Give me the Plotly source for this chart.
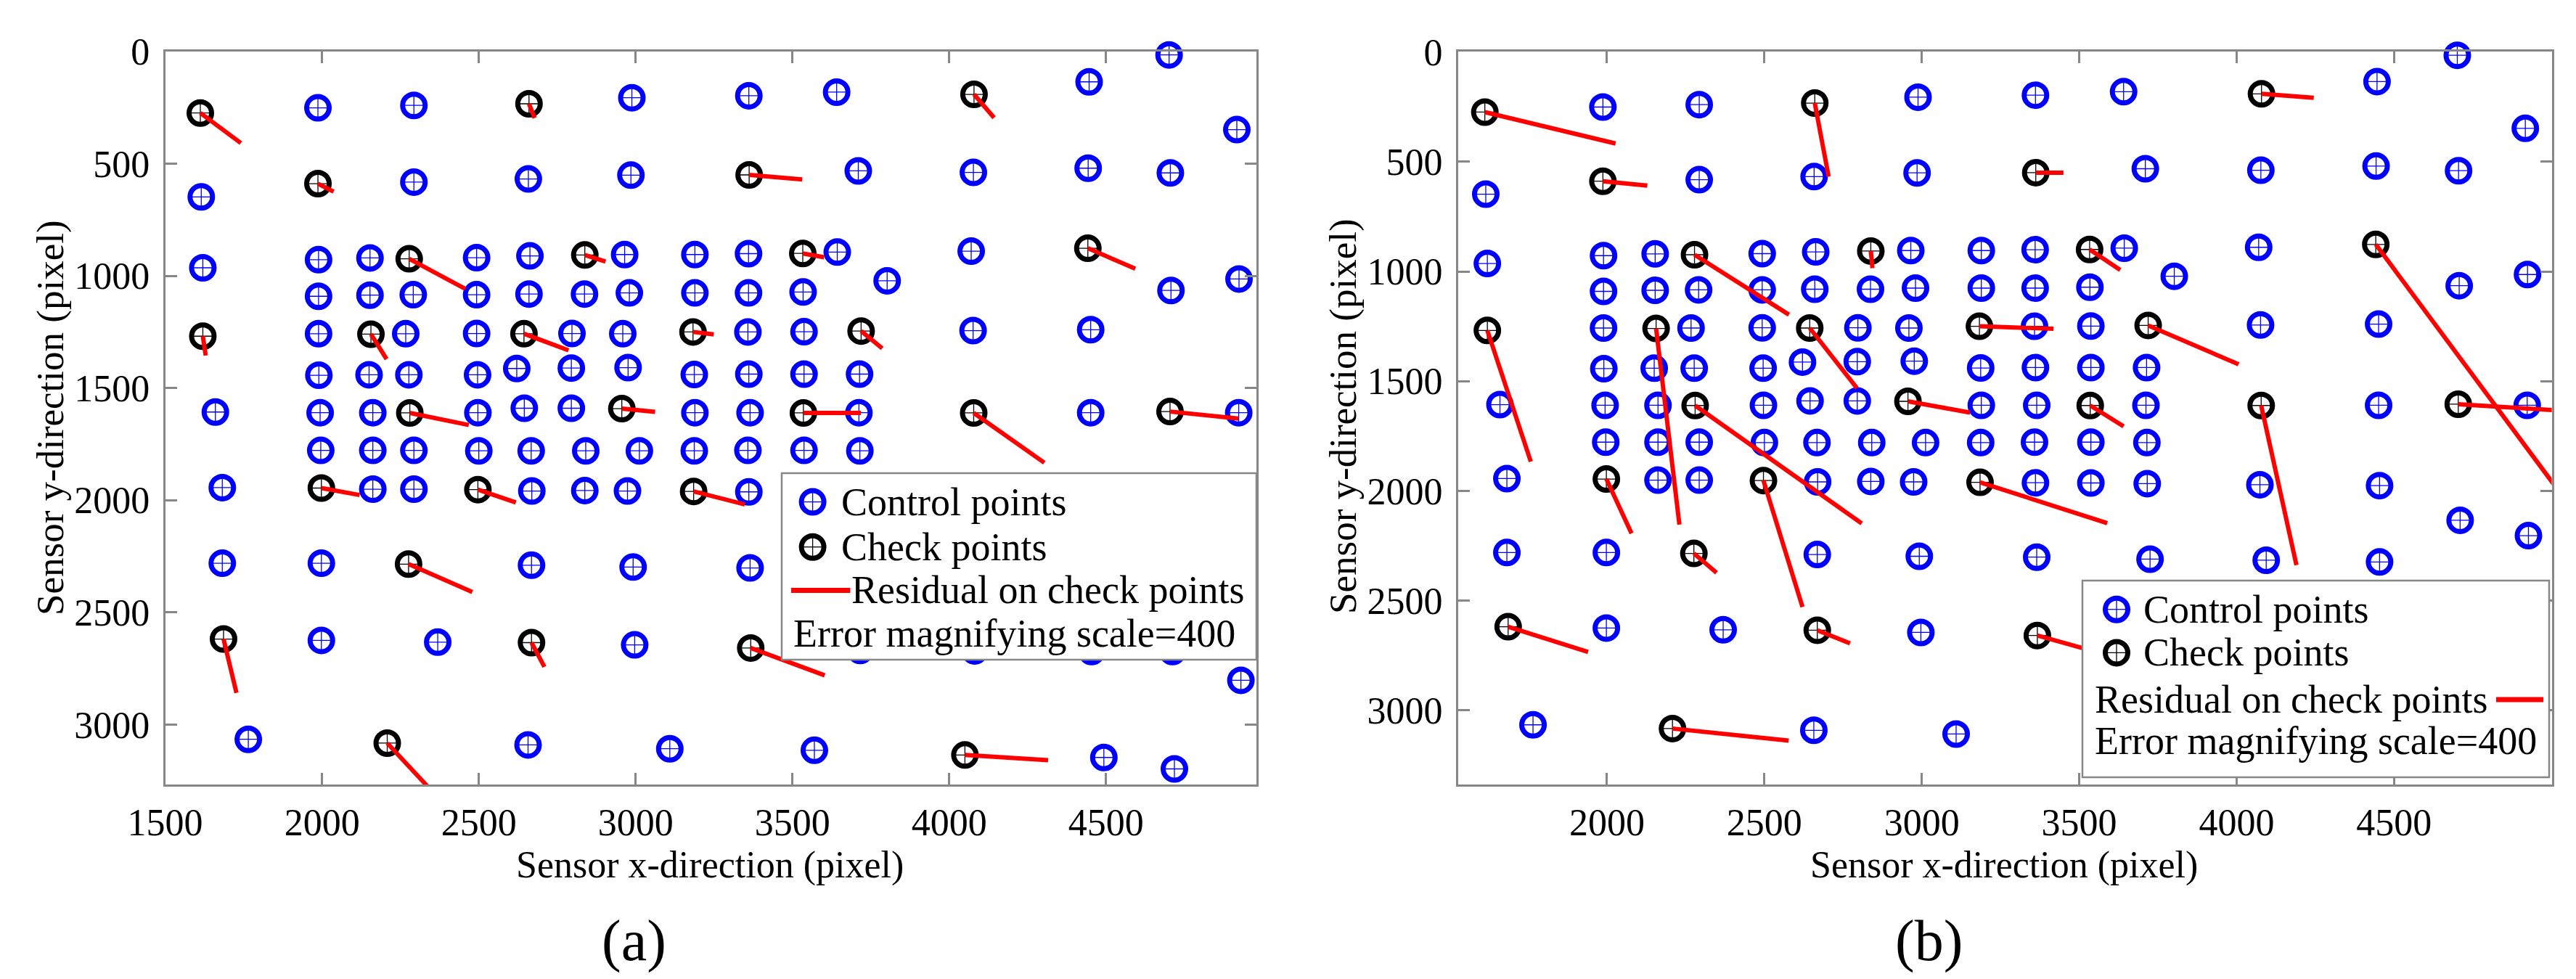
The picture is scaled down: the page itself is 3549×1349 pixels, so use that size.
import plotly.graph_objects as go

FONT = "Liberation Serif, Times New Roman, serif"
W, H = 3549, 1349
SCALE = 400  # error magnifying scale

# ---------------- data (sensor pixel coordinates) ----------------
control_x = [1987, 2293, 2988, 3361, 3641, 4446, 4701, 4917,
             1615, 2293, 2658, 2985, 3710, 4077, 4443, 4705,
             1620, 1989, 2153, 2493, 2663, 2965, 3189, 3360, 3643, 4070, 3802, 4707, 4924,
             1989, 2153, 2291, 2493, 2660, 2837, 2980, 3189, 3360, 3534,
             1989, 2267, 2493, 2797, 2959, 3358, 3537, 4076, 4451,
             1990, 2150, 2277, 2496, 2621, 2795, 2976, 3187, 3361, 3537, 3714,
             1660, 1994, 2162, 2497, 2645, 2795, 3189, 3365, 3712, 4451, 4923,
             1996, 2162, 2293, 2500, 2667, 2841, 3012, 3187, 3358, 3537, 3715,
             1682, 2162, 2293, 2669, 2838, 2974, 3361, 3537, 3716, 4074, 4454, 4710, 4927,
             1682, 1998, 2668, 2992, 3365, 3725, 4094, 4454,
             1998, 2369, 2997, 3716, 4081, 4454, 4712, 4930,
             1765, 2657, 3109, 3570, 4493, 4718]
control_y = [251, 240, 206, 197, 181, 135, 15, 348,
             648, 582, 568, 551, 532, 539, 520, 541,
             964, 928, 920, 919, 911, 905, 905, 901, 894, 890, 1022, 1065, 1014,
             1091, 1086, 1084, 1084, 1081, 1081, 1076, 1076, 1076, 1072,
             1258, 1258, 1257, 1257, 1258, 1250, 1249, 1244, 1240,
             1443, 1441, 1441, 1441, 1413, 1411, 1409, 1440, 1438, 1438, 1438,
             1607, 1610, 1610, 1610, 1590, 1590, 1610, 1610, 1610, 1610, 1610,
             1778, 1778, 1778, 1780, 1780, 1780, 1780, 1780, 1778, 1778, 1780,
             1944, 1951, 1951, 1959, 1957, 1959, 1963, 1964, 1967, 1972, 1976, 2134, 2204,
             2281, 2281, 2290, 2298, 2302, 2311, 2316, 2324,
             2625, 2633, 2645, 2670, 2672, 2675, 2675, 2803,
             3066, 3091, 3108, 3115, 3147, 3198]

check_x = [1612, 2660, 4079, 1987, 3362, 2278, 2838, 3533, 4442, 1620,
           2156, 2644, 3183, 3719, 2280, 2956, 3535, 4078, 4704, 1998,
           2497, 3185, 2276, 1686, 2668, 3367, 2208, 4050]
check_y = [274, 233, 191, 589, 550, 924, 907, 900, 877, 1269,
           1260, 1258, 1250, 1246, 1611, 1592, 1611, 1611, 1605, 1946,
           1953, 1961, 2285, 2619, 2635, 2659, 3083, 3136]

# residuals (pixel) of the check points, solution (a)
resid_a_x = [0.323, 0.045, 0.160, 0.125, 0.423, 0.448, 0.165, 0.170, 0.378, 0.023,
             0.125, 0.355, 0.165, 0.168, 0.470, 0.265, 0.458, 0.563, 0.545, 0.305,
             0.303, 0.408, 0.508, 0.103, 0.103, 0.590, 0.380, 0.663]
resid_a_y = [0.335, 0.158, 0.260, 0.090, 0.050, 0.335, 0.073, 0.043, 0.228, 0.215,
             0.278, 0.185, 0.028, 0.193, 0.135, 0.035, 0.000, 0.555, 0.078, 0.078,
             0.143, 0.145, 0.310, 0.600, 0.270, 0.305, 0.570, 0.058]

# residuals (pixel) of the check points, solution (b)
resid_b_x = [1.038, 0.110, 0.415, 0.353, 0.220, 0.750, 0.013, 0.243, 1.500, 0.345,
             0.185, 0.375, 0.588, 0.718, 1.323, 0.493, 0.265, 0.280, 0.850, 0.200,
             0.310, 1.010, 0.180, 0.635, 0.260, 0.500, 0.923, None]
resid_b_y = [0.358, 0.838, 0.045, 0.050, 0.000, 0.683, 0.195, 0.233, 2.900, 1.495,
             2.235, 0.685, 0.028, 0.443, 1.343, 0.128, 0.238, 1.818, 0.075, 0.620,
             1.440, 0.465, 0.220, 0.288, 0.150, 0.200, 0.138, None]

x_ticks_a = [1500, 2000, 2500, 3000, 3500, 4000, 4500]
x_ticks_b = [2000, 2500, 3000, 3500, 4000, 4500]
y_ticks = [0, 500, 1000, 1500, 2000, 2500, 3000]

x_title = "Sensor x-direction (pixel)"
y_title = "Sensor y-direction (pixel)"
legend_labels = ["Control points", "Check points", "Residual on check points",
                 "Error magnifying scale=" + str(SCALE)]

# ---------------- helpers ----------------
def px(x):
    return x / W


def py(y):
    return 1 - y / H


def residual_segments(xs, ys, rxs, rys):
    sx, sy = [], []
    for x, y, rx, ry in zip(xs, ys, rxs, rys):
        if rx is None or ry is None:
            continue
        sx += [x, x + rx * SCALE, None]
        sy += [y, y + ry * SCALE, None]
    return sx, sy


BLUE = "rgb(0,0,255)"
RED = "rgb(255,0,0)"
BLACK = "rgb(0,0,0)"
AXC = "rgb(135,135,135)"
MSIZE, MLW = 31, 7
CSIZE, CLW = 19, 1.3

fig = go.Figure()


def add_panel(xa, ya, rx, ry):
    fig.add_trace(go.Scatter(x=control_x, y=control_y, mode="markers", xaxis=xa, yaxis=ya,
                             marker=dict(symbol="circle-open", size=MSIZE, color=BLUE,
                                         line=dict(width=MLW, color=BLUE)),
                             cliponaxis=False, showlegend=False, name=legend_labels[0]))
    fig.add_trace(go.Scatter(x=control_x, y=control_y, mode="markers", xaxis=xa, yaxis=ya,
                             marker=dict(symbol="cross-thin-open", size=CSIZE, color=BLUE,
                                         line=dict(width=CLW, color=BLUE)),
                             cliponaxis=False, showlegend=False, hoverinfo="skip"))
    fig.add_trace(go.Scatter(x=check_x, y=check_y, mode="markers", xaxis=xa, yaxis=ya,
                             marker=dict(symbol="circle-open", size=MSIZE, color=BLACK,
                                         line=dict(width=MLW, color=BLACK)),
                             cliponaxis=False, showlegend=False, name=legend_labels[1]))
    fig.add_trace(go.Scatter(x=check_x, y=check_y, mode="markers", xaxis=xa, yaxis=ya,
                             marker=dict(symbol="cross-thin-open", size=CSIZE, color=BLACK,
                                         line=dict(width=CLW, color=BLACK)),
                             cliponaxis=False, showlegend=False, hoverinfo="skip"))
    sx, sy = residual_segments(check_x, check_y, rx, ry)
    fig.add_trace(go.Scatter(x=sx, y=sy, mode="lines", xaxis=xa, yaxis=ya,
                             line=dict(color=RED, width=6), showlegend=False,
                             name=legend_labels[2]))


add_panel("x", "y", resid_a_x, resid_a_y)
add_panel("x2", "y2", resid_b_x, resid_b_y)

axis_common = dict(showgrid=False, zeroline=False, showline=True, linecolor=AXC, linewidth=3,
                   mirror="ticks", ticks="inside", ticklen=16, tickwidth=2.5, tickcolor=AXC,
                   automargin=False,
                   tickfont=dict(family=FONT, size=52, color=BLACK))

fig.update_layout(
    template="none",
    width=W, height=H, autosize=False,
    margin=dict(l=0, r=0, t=0, b=0, pad=0),
    paper_bgcolor="white", plot_bgcolor="white",
    showlegend=False,
    xaxis=dict(domain=[px(219.6), px(1723)], range=[1500, 4979.5], tickvals=x_ticks_a,
               anchor="y", ticklabelstandoff=5, **axis_common),
    yaxis=dict(domain=[py(1073), py(63)], range=[3267.5, 0], tickvals=y_ticks,
               anchor="x", ticklabelstandoff=8, **axis_common),
    xaxis2=dict(domain=[px(2001), px(3507.6)], range=[1527.4, 5001], tickvals=x_ticks_b,
                anchor="y2", ticklabelstandoff=5, **axis_common),
    yaxis2=dict(domain=[py(1073), py(63)], range=[3338, -2], tickvals=y_ticks,
                anchor="x2", ticklabelstandoff=8, **axis_common),
)

annotations = []
shapes = []


def text(x, y, s, size=54, xanchor="center", angle=0):
    annotations.append(dict(x=px(x), y=py(y), xref="paper", yref="paper", text=s,
                            showarrow=False, xanchor=xanchor, yanchor="middle",
                            textangle=angle, font=dict(family=FONT, size=size, color=BLACK)))


# axis titles
text(970, 1184, x_title, size=52)
text(2753, 1184, x_title, size=52)
text(61, 568, y_title, size=53, angle=-90)
text(1842, 566, y_title, size=53, angle=-90)
# captions
text(865, 1288, "(a)", size=80)
text(2649, 1288, "(b)", size=80)


def legend_box(x0, x1, y0, y1):
    shapes.append(dict(type="rect", xref="paper", yref="paper", x0=px(x0), x1=px(x1),
                       y0=py(y1), y1=py(y0), fillcolor="white",
                       line=dict(color=AXC, width=2.5), layer="above"))


def legend_marker(x, y, color):
    r = MSIZE / 2
    shapes.append(dict(type="circle", xref="paper", yref="paper", xsizemode="pixel",
                       ysizemode="pixel", xanchor=px(x), yanchor=py(y), x0=-r, x1=r,
                       y0=-r, y1=r, line=dict(color=color, width=MLW), layer="above"))
    c = CSIZE * 0.7
    shapes.append(dict(type="line", xref="paper", yref="paper", xsizemode="pixel",
                       ysizemode="pixel", xanchor=px(x), yanchor=py(y), x0=-c, x1=c,
                       y0=0, y1=0, line=dict(color=color, width=CLW), layer="above"))
    shapes.append(dict(type="line", xref="paper", yref="paper", xsizemode="pixel",
                       ysizemode="pixel", xanchor=px(x), yanchor=py(y), x0=0, x1=0,
                       y0=-c, y1=c, line=dict(color=color, width=CLW), layer="above"))


def legend_line(xa, xb, y):
    shapes.append(dict(type="line", xref="paper", yref="paper", x0=px(xa), x1=px(xb),
                       y0=py(y), y1=py(y), line=dict(color=RED, width=7), layer="above"))


# legend (a)
legend_box(1069, 1723, 644, 901)
legend_marker(1111.6, 683.6, BLUE)
text(1149, 683.6, legend_labels[0], xanchor="left")
legend_marker(1111.6, 745.7, BLACK)
text(1149, 745.7, legend_labels[1], xanchor="left")
legend_line(1082, 1163.4, 805.4)
text(1163, 805.4, legend_labels[2], xanchor="left")
text(1083, 865, legend_labels[3], xanchor="left")

# legend (b)
legend_box(2861, 3504, 792, 1063)
legend_marker(2908, 831.7, BLUE)
text(2943, 831.7, legend_labels[0], xanchor="left")
legend_marker(2908, 891.4, BLACK)
text(2943, 891.4, legend_labels[1], xanchor="left")
text(2876, 955.9, legend_labels[2], xanchor="left")
legend_line(3431, 3496, 955.9)
text(2876, 1013.2, legend_labels[3], xanchor="left")

fig.update_layout(annotations=annotations, shapes=shapes)

fig.write_html("out.html")
